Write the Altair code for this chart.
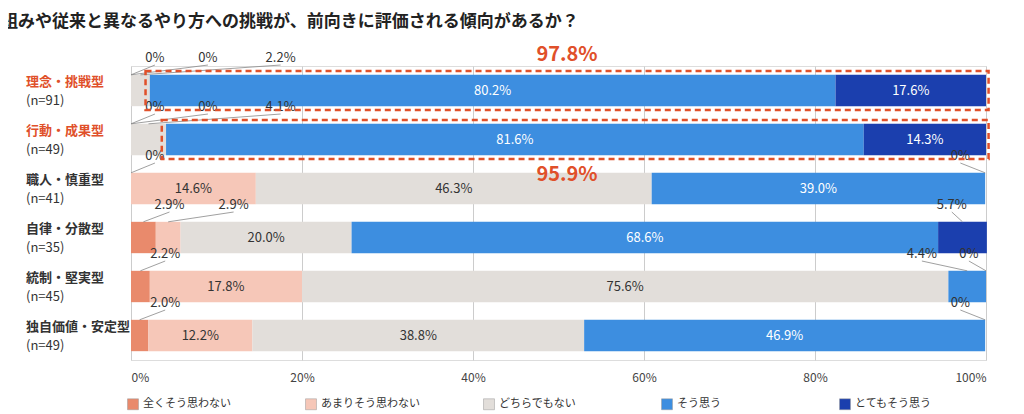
import pandas as pd
import altair as alt

cats = ["理念・挑戦型", "行動・成果型", "職人・慎重型", "自律・分散型", "統制・堅実型", "独自価値・安定型"]
ns = ["(n=91)", "(n=49)", "(n=41)", "(n=35)", "(n=45)", "(n=49)"]
highlight = [True, True, False, False, False, False]
segments = ["全くそう思わない", "あまりそう思わない", "どちらでもない", "そう思う", "とてもそう思う"]
colors = ["#E98A6C", "#F6C7B8", "#E2DEDA", "#3D8EE0", "#1B3FAE"]
values = [
    [0.0, 0.0, 2.2, 80.2, 17.6],
    [0.0, 0.0, 4.1, 81.6, 14.3],
    [0.0, 14.6, 46.3, 39.0, 0.0],
    [2.9, 2.9, 20.0, 68.6, 5.7],
    [2.2, 17.8, 75.6, 4.4, 0.0],
    [2.0, 12.2, 38.8, 46.9, 0.0],
]
# callouts for small segments: (row, segment index, label x in %)
callouts = [
    (0, 0, 2.8), (0, 1, 9.0), (0, 2, 17.5),
    (1, 0, 2.8), (1, 1, 9.0), (1, 2, 17.5),
    (2, 0, 2.8), (2, 4, 97.0),
    (3, 0, 4.5), (3, 1, 12.0), (3, 4, 96.0),
    (4, 0, 4.0), (4, 3, 92.5), (4, 4, 98.0),
    (5, 0, 4.0), (5, 4, 97.0),
]
totals = [("97.8%", 0, -0.72), ("95.9%", 1, 0.72)]

rows = []
for i, vals in enumerate(values):
    start = 0.0
    for j, v in enumerate(vals):
        rows.append({"row": i, "seg": segments[j], "si": j, "x": start, "x2": start + v, "v": v,
                     "mid": start + v / 2, "label": f"{v:.1f}%",
                     "tc": "white" if j >= 3 else "#333333"})
        start += v
df = pd.DataFrame(rows)

co = []
for r, s, lx in callouts:
    d = df[(df.row == r) & (df.si == s)].iloc[0]
    txt = "0%" if d.v == 0 else d.label
    co.append({"row": r, "mid": d.mid, "lx": lx, "ly": r - 0.52, "y0": r - 0.32, "text": txt})
co = pd.DataFrame(co)

catdf = pd.DataFrame({"row": range(len(cats)), "cat": cats, "n": ns,
                      "col": ["#E0502A" if h else "#333333" for h in highlight]})

boxes = []
for label, r, off in totals:
    s = df[(df.row == r) & (df.si == 3)].iloc[0].x
    boxes.append({"x": s - 0.5, "x2": 100.3, "y": r - 0.4, "y2": r + 0.4,
                  "text": label, "ty": r + off, "tx": 51})
boxes = pd.DataFrame(boxes)

xs = alt.Scale(domain=[0, 100], nice=False)
ys = alt.Scale(domain=[-0.5, 5.5], reverse=True, nice=False, zero=False)

bars = alt.Chart(df).mark_bar().encode(
    x=alt.X("x:Q", scale=xs, title=None,
            axis=alt.Axis(values=[0, 20, 40, 60, 80, 100], labelExpr="datum.value + '%'",
                          domain=False, ticks=False, labelFontSize=12, labelColor="#444",
                          gridColor="#cccccc", labelPadding=12)),
    x2="x2:Q",
    y=alt.Y("y0:Q", scale=ys, axis=None),
    y2="y1:Q",
    color=alt.Color("seg:N", sort=segments, scale=alt.Scale(domain=segments, range=colors),
                    legend=alt.Legend(title=None, orient="none", legendX=-4, legendY=332,
                                      direction="horizontal", columns=5, gridAlign="all",
                                      columnPadding=62, symbolType="square", symbolSize=120,
                                      symbolStrokeColor="#999", symbolStrokeWidth=0.5,
                                      labelFontSize=11, labelColor="#333")),
).transform_calculate(y0="datum.row - 0.32", y1="datum.row + 0.32")

inner = alt.Chart(df).transform_filter("datum.v >= 10").mark_text(fontSize=13).encode(
    x="mid:Q", y="row:Q", text="label:N", color=alt.Color("tc:N", scale=None))

lines = alt.Chart(co).mark_rule(color="#888", strokeWidth=0.8).encode(
    x="mid:Q", x2="lx:Q", y="y0:Q", y2="ly:Q")
cotext = alt.Chart(co).mark_text(fontSize=13, color="#333", dy=-7).encode(
    x="lx:Q", y="ly:Q", text="text:N")

rect = alt.Chart(boxes).mark_rect(fill=None, stroke="#E0502A", strokeWidth=2.5,
                                  strokeDash=[6, 4]).encode(x="x:Q", x2="x2:Q", y="y:Q", y2="y2:Q")
tot = alt.Chart(boxes).mark_text(fontSize=20, fontWeight="bold", color="#E0502A").encode(
    x="tx:Q", y="ty:Q", text="text:N")

catt = alt.Chart(catdf).mark_text(align="left", fontSize=13, fontWeight="bold", dy=-9).encode(
    x=alt.value(-105), y="row:Q", text="cat:N", color=alt.Color("col:N", scale=None))
nt = alt.Chart(catdf).mark_text(align="left", fontSize=13, color="#333", dy=10).encode(
    x=alt.value(-105), y="row:Q", text="n:N")

chart = alt.layer(bars, inner, lines, cotext, rect, tot, catt, nt).properties(
    width=855, height=294,
    title=alt.TitleParams("Q新しい取り組みや従来と異なるやり方への挑戦が、前向きに評価される傾向があるか？",
                          anchor="start", fontSize=17, fontWeight="bold", color="#222", offset=14, dx=-123),
    autosize=alt.AutoSizeParams(type="none"),
    padding={"left": 123, "top": 58, "right": 30, "bottom": 60},
).configure_view(stroke=None).configure(font="Noto Sans CJK JP")

chart.save("out.html", embed_options={"renderer": "svg", "actions": False})
